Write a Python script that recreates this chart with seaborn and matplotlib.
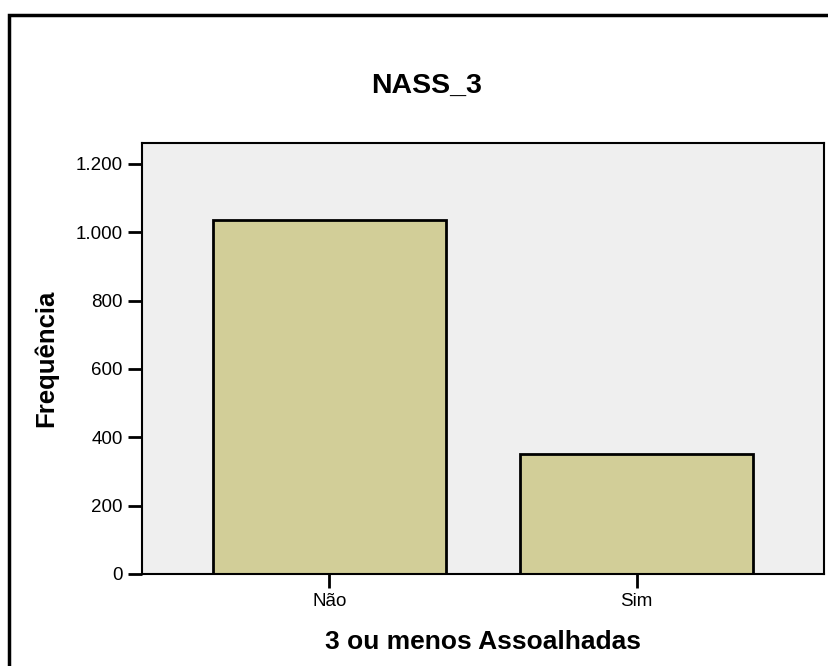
import pandas as pd
import seaborn as sns
import matplotlib.pyplot as plt
from matplotlib.patches import Rectangle
from matplotlib.ticker import FuncFormatter

categorias = ["Não", "Sim"]
frequencias = [1037, 351]
yticks = [0, 200, 400, 600, 800, 1000, 1200]

sns.set_style("white")
plt.rcParams["font.family"] = ["Liberation Sans", "DejaVu Sans"]
plt.rcParams["text.color"] = "black"

fig = plt.figure(figsize=(8.29, 6.66), dpi=100)
ax = fig.add_axes([142 / 829, 92 / 666, 682 / 829, 431 / 666])

df = pd.DataFrame({"cat": categorias, "freq": frequencias})
sns.barplot(data=df, x="cat", y="freq", color="#d2ce98", saturation=1,
            edgecolor="black", linewidth=2, width=0.758, ax=ax)

ax.set_facecolor("#efefef")
ax.set_xlim(-0.61, 1.61)
ax.set_ylim(0, 1261)
ax.set_yticks(yticks)
ax.yaxis.set_major_formatter(FuncFormatter(lambda v, p: f"{int(v):,}".replace(",", ".")))
for s in ax.spines.values():
    s.set_visible(True)
    s.set_color("black")
    s.set_linewidth(1.5)
ax.tick_params(axis="both", direction="out", length=10, width=2, color="black",
               labelsize=13.5, labelcolor="black", left=True, bottom=True, pad=4)

ax.set_xlabel("3 ou menos Assoalhadas", fontsize=19, fontweight="bold",
              color="black", va="center")
ax.xaxis.set_label_coords(0.5, -0.158)
ax.set_ylabel("Frequência", fontsize=18.5, fontweight="bold",
              color="black", va="center")
ax.yaxis.set_label_coords(-0.141, 0.5)

fig.text(427 / 829, 1 - 86 / 666, "NASS_3", ha="center", va="center",
         fontsize=20.5, fontweight="bold", color="black")

# moldura exterior (cortada à direita e em baixo)
fig.patches.append(Rectangle((9 / 829, -0.1), 1.2, (666 - 15) / 666 + 0.1,
                             transform=fig.transFigure, fill=False,
                             edgecolor="black", linewidth=2.5))

fig.savefig("out.png", dpi=100)
